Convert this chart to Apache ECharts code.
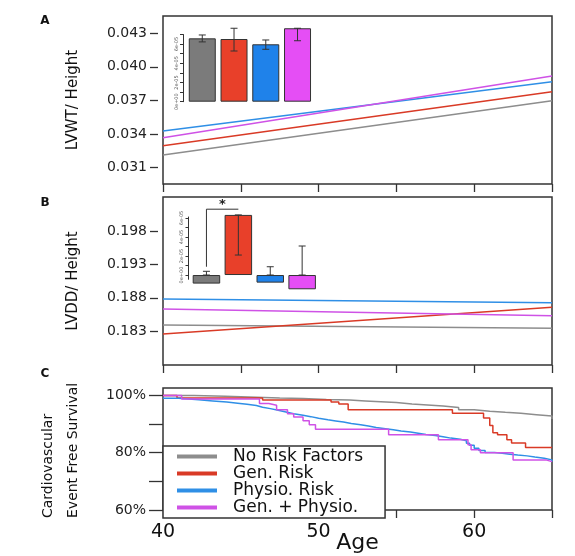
<!DOCTYPE html>
<html><head><meta charset="utf-8">
<script src="https://cdn.jsdelivr.net/npm/echarts@6/dist/echarts.min.js"></script>
<style>html,body{margin:0;padding:0;background:#fff}#c{width:575px;height:556px}</style>
</head><body><div id="c"></div>
<script>
// ---------- data ----------
const groups = ['No Risk Factors', 'Gen. Risk', 'Physio. Risk', 'Gen. + Physio.'];
const regAges = [40, 65];
// Panel A: LVWT / Height regression lines (value at age 40, age 65)
const lvwtNoRisk = [0.03212, 0.03697];
const lvwtGen = [0.03295, 0.03778];
const lvwtPhysio = [0.03427, 0.03867];
const lvwtGenPhysio = [0.03367, 0.03918];
const lvwtTicks = [0.031, 0.034, 0.037, 0.040, 0.043];
// Panel B: LVDD / Height regression lines
const lvddNoRisk = [0.18389, 0.18339];
const lvddGen = [0.18253, 0.18657];
const lvddPhysio = [0.18782, 0.18726];
const lvddGenPhysio = [0.18631, 0.18530];
const lvddTicks = [0.183, 0.188, 0.193, 0.198];
// Inset A bars (x1e-05) and error ranges
const insetAMean = [6.60, 6.53, 5.98, 7.65];
const insetALow = [6.23, 5.28, 5.46, 6.35];
const insetAHigh = [6.95, 7.65, 6.43, 7.65];
// Inset B bars (x1e-05) and error ranges
const insetBMean = [-0.9, 6.32, -0.8, -1.5];
const insetBLow = [0, 2.1, 0, 0];
const insetBHigh = [0.39, 6.32, 0.87, 3.05];
const insetTicks = [0, 1, 2, 3, 4, 5, 6, 7];
const insetLabels = [0, 2, 4, 6];
const insetBTicks = [0, 1, 2, 3, 4, 5, 6];
const sigBracket = [0, 1, 0.87, 6.92]; // from group, to group, low value, high value
// Panel C: Kaplan-Meier survival (age, %)
const survNoRiskAge = [40, 42, 44, 46, 47.5, 49, 50.5, 52, 53, 54, 55, 56, 57, 58, 59, 60, 61, 62, 63, 64, 65];
const survNoRiskPct = [100, 99.7, 99.4, 99.1, 98.9, 98.6, 98.4, 98.1, 97.8, 97.5, 97.0, 96.7, 96.3, 95.8, 95.0, 94.5, 94.1, 93.8, 93.3, 92.8, 91.8];
const survGenAge = [40, 40.9, 46.4, 50.8, 51.3, 51.9, 58.6, 60.6, 61.0, 61.2, 61.5, 62.1, 62.4, 63.3, 65];
const survGenPct = [100, 99.1, 98.4, 97.7, 97.0, 95.0, 93.8, 92.1, 89.5, 87.0, 86.3, 84.5, 83.4, 81.8, 81.8];
const survPhysioAge = [40, 41.0, 42.3, 43.2, 44.1, 44.8, 45.4, 46.0, 46.4, 46.9, 47.4, 47.9, 48.4, 49.0, 49.5, 50.0, 50.6, 51.1, 51.6, 52.1, 52.7, 53.2, 53.7, 54.3, 54.8, 55.3, 55.9, 56.4, 56.9, 57.5, 58.0, 58.5, 59.1, 59.5, 59.7, 60.0, 60.3, 60.7, 61.3, 61.8, 62.3, 62.8, 63.4, 63.9, 64.5, 65];
const survPhysioPct = [99.0, 98.5, 98.1, 97.7, 97.3, 96.9, 96.5, 95.9, 95.4, 94.8, 94.2, 93.6, 93.1, 92.6, 92.0, 91.5, 91.1, 90.7, 90.2, 89.8, 89.3, 88.8, 88.4, 88.0, 87.6, 87.2, 86.8, 86.4, 86.0, 85.6, 85.1, 84.7, 84.2, 83.3, 82.6, 81.6, 80.8, 80.1, 79.8, 79.5, 79.2, 78.9, 78.5, 78.1, 77.5, 76.9];
const survGenPhysioAge = [40, 41.2, 46.2, 46.8, 47.3, 48.0, 48.4, 49.0, 49.4, 49.8, 54.5, 57.7, 59.6, 59.8, 60.4, 62.5, 64.6, 65];
const survGenPhysioPct = [100, 98.8, 97.2, 96.6, 95.0, 93.6, 92.5, 91.2, 89.8, 88.2, 86.3, 84.5, 82.8, 81.0, 80.0, 77.5, 76.9, 76.9];
const survTicks = [60, 70, 80, 90, 100];
const survLabels = [60, 80, 100];
const ageLabels = [40, 50, 60];

// ---------- styles ----------
const FONT = "'DejaVu Sans', sans-serif";
const lineColors = ['#8d8d8d', '#d93a26', '#2f8fe6', '#cf52e6'];
const barColors = ['#7b7b7b', '#e8402a', '#1f82ea', '#e54ef5'];
const AX = '#333';

const zip = (a, b) => a.map((v, i) => [v, b[i]]);

function mainX(grid, showLabels) {
  return {
    type: 'value', gridIndex: grid, min: 40, max: 65, interval: 5,
    axisLine: {show: false}, splitLine: {show: false},
    axisTick: {show: true, length: 8, lineStyle: {color: AX, width: 1.3}},
    axisLabel: showLabels ? {show: true, customValues: ageLabels, fontFamily: FONT, fontSize: 19, color: '#111', margin: 13}
                          : {show: false},
    name: showLabels ? 'Age' : '', nameLocation: 'middle', nameGap: 22, nameMoveOverlap: false,
    nameTextStyle: {fontFamily: FONT, fontSize: 22, color: '#111'}
  };
}
function mainY(grid, min, max, ticks, dec, name) {
  return {
    type: 'value', gridIndex: grid, min: min, max: max, offset: 5,
    axisLine: {show: false}, splitLine: {show: false},
    axisTick: {show: true, length: 8, customValues: ticks, lineStyle: {color: AX, width: 1.3}},
    axisLabel: {customValues: ticks, formatter: v => v.toFixed(dec), fontFamily: FONT, fontSize: 14, color: '#222', margin: 11},
    name: name, nameLocation: 'middle', nameRotate: 90, nameGap: 77, nameMoveOverlap: false,
    nameTextStyle: {fontFamily: FONT, fontSize: 15, color: '#111'}
  };
}
function insetY(grid, min, max, ticks, offset) {
  return {
    type: 'value', gridIndex: grid, min: min, max: max, offset: offset,
    axisLine: {show: true, lineStyle: {color: AX, width: 1}}, splitLine: {show: false},
    axisTick: {show: true, length: 3, customValues: ticks, lineStyle: {color: AX, width: 1}},
    axisLabel: {customValues: insetLabels, rotate: 90, fontFamily: FONT, fontSize: 5, color: '#555', margin: 4,
      formatter: v => v === 0 ? '0e+00' : v + 'e-05'}
  };
}
function errRender(params, api) {
  const x = api.value(0);
  const p1 = api.coord([x, api.value(1)]);
  const p2 = api.coord([x, api.value(2)]);
  const cap = 3.5, st = {stroke: '#333', lineWidth: 1};
  return {type: 'group', children: [
    {type: 'line', shape: {x1: p1[0], y1: p1[1], x2: p2[0], y2: p2[1]}, style: st},
    {type: 'line', shape: {x1: p1[0] - cap, y1: p1[1], x2: p1[0] + cap, y2: p1[1]}, style: st},
    {type: 'line', shape: {x1: p2[0] - cap, y1: p2[1], x2: p2[0] + cap, y2: p2[1]}, style: st}
  ]};
}
function bracketRender(params, api) {
  const a = api.coord([api.value(0), api.value(2)]);
  const b = api.coord([api.value(0), api.value(3)]);
  const c = api.coord([api.value(1), api.value(3)]);
  return {type: 'group', children: [
    {type: 'polyline', shape: {points: [a, b, c]}, style: {stroke: '#333', lineWidth: 1, fill: null}},
    {type: 'text', x: (b[0] + c[0]) / 2, y: b[1] + 2,
     style: {text: '*', font: 'bold 13px ' + FONT, fill: '#222', align: 'center', verticalAlign: 'bottom'}}
  ]};
}

const lineSeries = (name, xi, data, color, step) => ({
  name: name, type: 'line', xAxisIndex: xi, yAxisIndex: xi, data: data,
  showSymbol: false, symbol: 'none', step: step || false,
  lineStyle: {color: color, width: 1.5}, itemStyle: {color: color}, silent: true
});

const lvwt = [lvwtNoRisk, lvwtGen, lvwtPhysio, lvwtGenPhysio];
const lvdd = [lvddNoRisk, lvddGen, lvddPhysio, lvddGenPhysio];
const survAge = [survNoRiskAge, survGenAge, survPhysioAge, survGenPhysioAge];
const survPct = [survNoRiskPct, survGenPct, survPhysioPct, survGenPhysioPct];

const series = [];
groups.forEach((g, i) => series.push(lineSeries('LVWT ' + g, 0, zip(regAges, lvwt[i]), lineColors[i])));
groups.forEach((g, i) => series.push(lineSeries('LVDD ' + g, 1, zip(regAges, lvdd[i]), lineColors[i])));
groups.forEach((g, i) => series.push(lineSeries(g, 2, zip(survAge[i], survPct[i]), lineColors[i], 'end')));

const barData = vals => vals.map((v, i) => ({value: v, itemStyle: {color: barColors[i]}}));
series.push({type: 'bar', xAxisIndex: 3, yAxisIndex: 3, data: barData(insetAMean), barWidth: 27, clip: false,
  itemStyle: {borderColor: '#333', borderWidth: 1}, silent: true});
series.push({type: 'custom', xAxisIndex: 3, yAxisIndex: 3, renderItem: errRender, clip: false, z: 5,
  encode: {x: 0, y: [1, 2]}, data: groups.map((g, i) => [i, insetALow[i], insetAHigh[i]]), silent: true});
series.push({type: 'bar', xAxisIndex: 4, yAxisIndex: 4, data: barData(insetBMean), barWidth: 27.5, clip: false,
  itemStyle: {borderColor: '#333', borderWidth: 1}, silent: true});
series.push({type: 'custom', xAxisIndex: 4, yAxisIndex: 4, renderItem: errRender, clip: false, z: 5,
  encode: {x: 0, y: [1, 2]}, data: groups.map((g, i) => [i, insetBLow[i], insetBHigh[i]]), silent: true});
series.push({type: 'custom', xAxisIndex: 4, yAxisIndex: 4, renderItem: bracketRender, clip: false, z: 5,
  encode: {x: 0, y: [2, 3]}, data: [sigBracket], silent: true});

const gridBox = {show: true, borderColor: AX, borderWidth: 1.5, backgroundColor: 'transparent', outerBoundsMode: 'none', containLabel: false};
const insetBox = {outerBoundsMode: 'none', containLabel: false};
const option = {
  animation: false,
  backgroundColor: '#fff',
  textStyle: {fontFamily: FONT},
  grid: [
    Object.assign({left: 163, top: 16, width: 389, height: 168}, gridBox),
    Object.assign({left: 163, top: 197, width: 389, height: 168}, gridBox),
    Object.assign({left: 163, top: 388, width: 389, height: 122}, gridBox),
    Object.assign({left: 186.4, top: 34.5, width: 127, height: 67.2}, insetBox),
    Object.assign({left: 190.5, top: 217, width: 127.6, height: 62.3}, insetBox)
  ],
  xAxis: [
    mainX(0, false), mainX(1, false), mainX(2, true),
    {type: 'category', gridIndex: 3, data: groups, show: false},
    {type: 'category', gridIndex: 4, data: groups, show: false}
  ],
  yAxis: [
    mainY(0, 0.029536, 0.044536, lvwtTicks, 3, 'LVWT/ Height'),
    mainY(1, 0.17785, 0.20323, lvddTicks, 3, 'LVDD/ Height'),
    {
      type: 'value', gridIndex: 2, min: 60, max: 102.6,
      axisLine: {show: false}, splitLine: {show: false},
      axisTick: {show: true, length: 14, customValues: survTicks, lineStyle: {color: AX, width: 1.3}},
      axisLabel: {customValues: survLabels, formatter: v => v + '%', fontFamily: FONT, fontSize: 14, color: '#222', margin: 17}
    },
    insetY(3, 0, 7, insetTicks, 3.4),
    insetY(4, -0.45, 6.1, insetBTicks, 2)
  ],
  legend: {
    data: groups, orient: 'vertical', left: 163, top: 446,
    padding: [2, 22, 2, 14], itemGap: 0, itemWidth: 40, itemHeight: 4, icon: 'rect',
    backgroundColor: '#fff', borderColor: AX, borderWidth: 1.5, borderRadius: 0,
    selectedMode: false,
    textStyle: {fontFamily: FONT, fontSize: 17, lineHeight: 15, color: '#111', padding: [0, 0, 0, 11]}
  },
  graphic: [
    {type: 'text', x: 45, y: 21, style: {text: 'A', font: 'bold 12px ' + FONT, fill: '#111', align: 'center', verticalAlign: 'middle'}},
    {type: 'text', x: 45, y: 203, style: {text: 'B', font: 'bold 12px ' + FONT, fill: '#111', align: 'center', verticalAlign: 'middle'}},
    {type: 'text', x: 45, y: 374, style: {text: 'C', font: 'bold 12px ' + FONT, fill: '#111', align: 'center', verticalAlign: 'middle'}},
    {type: 'text', x: 61, y: 518, rotation: Math.PI / 2,
     style: {text: 'Cardiovascular\nEvent Free Survival', font: '14px ' + FONT, lineHeight: 25, fill: '#111', align: 'left', verticalAlign: 'middle'}}
  ],
  series: series
};
const chart = echarts.init(document.getElementById('c'), null, {renderer: 'canvas'});
chart.setOption(option);
</script></body></html>
